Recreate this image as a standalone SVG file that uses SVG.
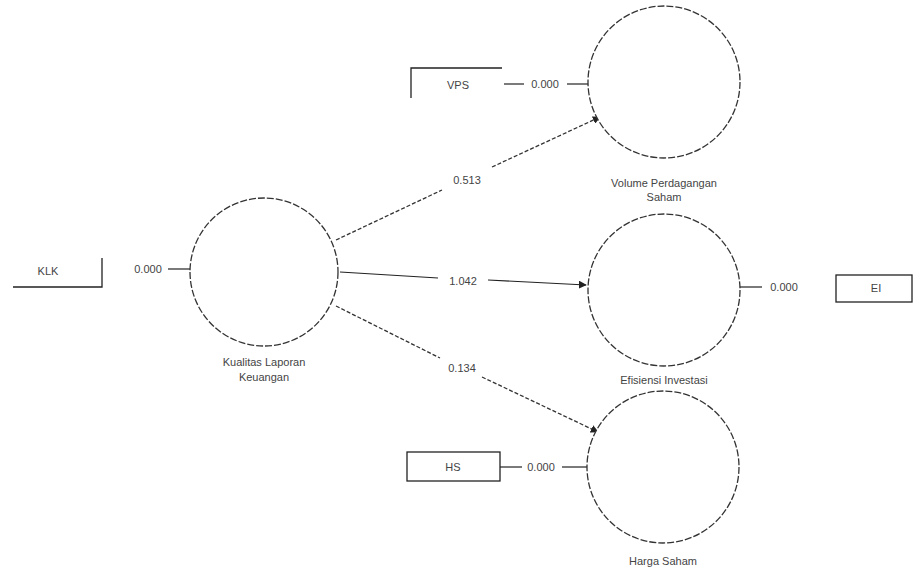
<svg xmlns="http://www.w3.org/2000/svg" width="922" height="571" viewBox="0 0 922 571">
<defs>
<marker id="arr" viewBox="0 0 10 10" refX="9" refY="5" markerWidth="8" markerHeight="8" orient="auto" markerUnits="userSpaceOnUse">
<path d="M0,0 L10,5 L0,10 z" fill="#222"/>
</marker>
</defs>
<style>
.c{fill:#fff;stroke:#333;stroke-width:1.3;stroke-dasharray:7 2}
.b{fill:none;stroke:#222;stroke-width:1.3}
.l{stroke:#222;stroke-width:1.2;fill:none}
.d{stroke:#333;stroke-width:1.3;fill:none;stroke-dasharray:4 2}
.t{font-family:"Liberation Sans",Arial,sans-serif;font-size:11px;fill:#444;text-anchor:middle}
</style>
<rect width="922" height="571" fill="#fff"/>
<g id="connectors">
<line class="l" x1="168" y1="269" x2="190" y2="269"/>
<line class="l" x1="504" y1="84" x2="524" y2="84"/>
<line class="l" x1="567" y1="84" x2="589" y2="84"/>
<line class="l" x1="500" y1="467" x2="522" y2="467"/>
<line class="l" x1="562" y1="467" x2="587" y2="467"/>
<line class="l" x1="740" y1="287" x2="762" y2="287"/>
<line class="d" x1="336" y1="240" x2="442" y2="190"/>
<line class="d" x1="492" y1="167" x2="600" y2="117" marker-end="url(#arr)"/>
<line class="l" x1="340" y1="272" x2="438" y2="278"/>
<line class="l" x1="488" y1="280" x2="586" y2="285" marker-end="url(#arr)"/>
<line class="d" x1="336" y1="306" x2="440" y2="358"/>
<line class="d" x1="482" y1="377" x2="598" y2="432" marker-end="url(#arr)"/>
<text class="t" x="467" y="184">0.513</text>
<text class="t" x="463" y="285">1.042</text>
<text class="t" x="462" y="372">0.134</text>
</g>
<g id="KLK">
<path class="b" d="M13,287 L102,287 L102,258"/>
<text class="t" x="48" y="275">KLK</text>
<text class="t" x="148" y="273">0.000</text>
</g>
<g id="VPS">
<path class="b" d="M411,98 L411,68 L502,68"/>
<text class="t" x="458" y="89">VPS</text>
<text class="t" x="545" y="88">0.000</text>
</g>
<g id="HS">
<rect class="b" x="407" y="452" width="93" height="29"/>
<text class="t" x="453" y="471">HS</text>
<text class="t" x="541" y="471">0.000</text>
</g>
<g id="EI">
<rect class="b" x="836" y="275" width="76" height="27"/>
<text class="t" x="876" y="292">EI</text>
<text class="t" x="784" y="291">0.000</text>
</g>
<g id="kualitas">
<circle class="c" cx="264" cy="272" r="74"/>
<text class="t" x="264" y="366">Kualitas Laporan</text>
<text class="t" x="264" y="381">Keuangan</text>
</g>
<g id="volume">
<circle class="c" cx="664" cy="82" r="76"/>
<text class="t" x="664" y="187">Volume Perdagangan</text>
<text class="t" x="664" y="201">Saham</text>
</g>
<g id="efisiensi">
<circle class="c" cx="664" cy="290" r="76"/>
<text class="t" x="664" y="384">Efisiensi Investasi</text>
</g>
<g id="harga">
<circle class="c" cx="663" cy="467" r="76"/>
<text class="t" x="663" y="565">Harga Saham</text>
</g>
</svg>
